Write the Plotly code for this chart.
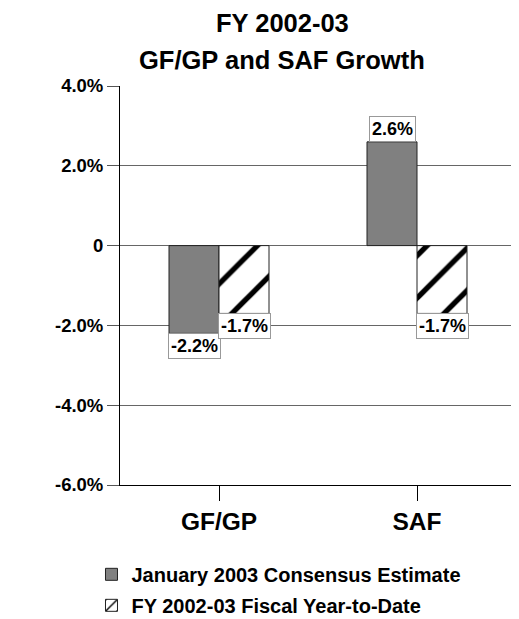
import plotly.graph_objects as go

categories = ["GF/GP", "SAF"]
consensus = [-2.2, 2.6]
ytd = [-1.7, -1.7]
series_names = ["January 2003 Consensus Estimate", "FY 2002-03 Fiscal Year-to-Date"]
tick_vals = [4, 2, 0, -2, -4, -6]
tick_text = ["4.0%", "2.0%", "0", "-2.0%", "-4.0%", "-6.0%"]
title_lines = ["FY 2002-03", "GF/GP and SAF Growth"]

FONT = "Liberation Sans, Arial, sans-serif"
OFF = 8  # default page body margin
PLOT_TOP = 86 - OFF
PLOT_LEFT = 120 - OFF
PLOT_H = 399
PLOT_W = 396
FIG_W = 519 - OFF
FIG_H = 619 - OFF

fig = go.Figure()
fig.add_trace(go.Bar(
    x=categories, y=consensus, name=series_names[0], legendgroup="a",
    marker=dict(color="#808080", line=dict(color="#222222", width=1)),
))
fig.add_trace(go.Bar(
    x=categories, y=ytd, name=series_names[1], legendgroup="b",
    marker=dict(color="white", line=dict(color="#222222", width=1),
                pattern=dict(shape="/", fgcolor="black", bgcolor="white",
                             fgopacity=1, size=30, solidity=0.18)),
))

annotations = []
for vals, shift in ((consensus, -25), (ytd, 25)):
    for c, v in zip(categories, vals):
        annotations.append(dict(
            x=c, y=v, xref="x", yref="y", xshift=shift,
            text=f"{v:.1f}%", showarrow=False,
            yanchor="bottom" if v > 0 else "top",
            font=dict(family=FONT, size=18, color="black", weight="bold"),
            bgcolor="white", bordercolor="#999999", borderwidth=1, borderpad=2,
        ))

title_y = [23, 60]
for line, ty in zip(title_lines, title_y):
    annotations.append(dict(
        x=(282 - 120) / PLOT_W, y=1 + (86 - ty) / PLOT_H, xref="paper", yref="paper",
        text=line, showarrow=False, yanchor="middle", xanchor="center",
        font=dict(family=FONT, size=25.5, color="black", weight="bold")))

fig.update_layout(
    width=FIG_W, height=FIG_H,
    margin=dict(l=PLOT_LEFT, r=FIG_W - PLOT_LEFT - PLOT_W, t=PLOT_TOP,
                b=FIG_H - PLOT_TOP - PLOT_H, autoexpand=False),
    paper_bgcolor="white", plot_bgcolor="white",
    barmode="group", bargap=0.495, bargroupgap=0,
    showlegend=True,
    legend=dict(x=-0.072, y=-0.175, xanchor="left", yanchor="top",
                traceorder="grouped", tracegroupgap=2,
                font=dict(family=FONT, size=20, color="black", weight="bold"),
                itemwidth=30, bgcolor="rgba(0,0,0,0)"),
    font=dict(family=FONT, color="black"),
    xaxis=dict(showline=True, linecolor="black", linewidth=1,
               ticks="outside", ticklen=15, tickcolor="black",
               tickfont=dict(family=FONT, size=24.5, color="black", weight="bold"),
               showgrid=False),
    yaxis=dict(range=[-6, 4], tickvals=tick_vals, ticktext=tick_text,
               showline=True, linecolor="black", linewidth=1,
               ticks="outside", ticklen=12, tickcolor="#555555",
               showgrid=True, gridcolor="#666666", gridwidth=1,
               zeroline=True, zerolinecolor="#666666", zerolinewidth=1,
               tickfont=dict(family=FONT, size=18.5, color="black", weight="bold")),
    annotations=annotations,
)
fig.write_html("out.html")
